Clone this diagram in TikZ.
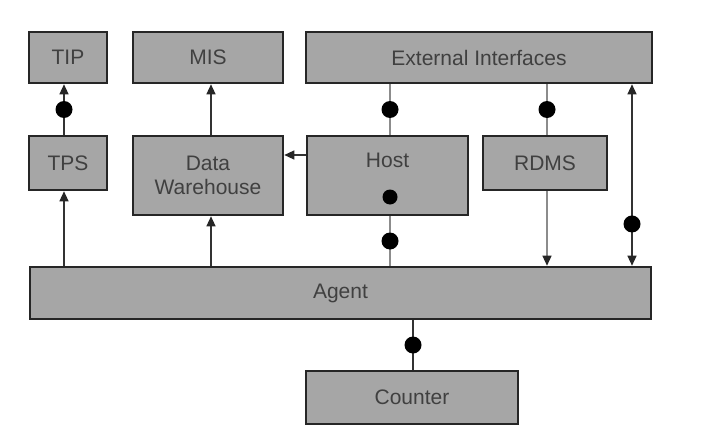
\documentclass[tikz,border=0pt]{standalone}
\usepackage{fontspec}
\setmainfont{Liberation Sans}
\usetikzlibrary{arrows.meta}
\begin{document}
\begin{tikzpicture}[x=1pt,y=-1pt,
  blk/.style={draw=black!85,line width=2.6pt,fill=black!35,inner sep=0pt,
    font=\fontsize{21}{24}\selectfont,text=black!75,align=center},
  conn/.style={line width=1.3pt,draw=black!80},
  lconn/.style={line width=1.3pt,draw=black!45},
  tip/.tip={Triangle[length=10pt,width=9pt,fill=black!85,color=black!85]},
  arr/.style={-tip},
  dot/.style={circle,fill=black,inner sep=0pt,minimum size=17pt},
  sdot/.style={circle,fill=black,inner sep=0pt,minimum size=15pt}]
\useasboundingbox[fill=white] (0,0) rectangle (722,444);
% blocks
\node[blk,minimum width=78pt,minimum height=51pt] (tip) at (68,57.5) {TIP};
\node[blk,minimum width=150pt,minimum height=51pt] (mis) at (208,57.5) {MIS};
\node[blk,minimum width=346pt,minimum height=51pt] (ei) at (479,57.5) {External Interfaces};
\node[blk,minimum width=78pt,minimum height=54pt] (tps) at (68,163) {TPS};
\node[blk,minimum width=150pt,minimum height=79pt] (dw) at (208,175.5) {Data\\Warehouse};
\node[blk,minimum width=161pt,minimum height=79pt] (host) at (387.5,175.5) {};
\node[font=\fontsize{21}{24}\selectfont,text=black!75] (hostlbl) at (387.5,160) {Host};
\node[sdot] (hostdot) at (390,197) {};
\node[blk,minimum width=124pt,minimum height=54pt] (rdms) at (545,163) {RDMS};
\node[blk,minimum width=621pt,minimum height=52pt] (agent) at (340.5,293) {Agent};
\node[blk,minimum width=212pt,minimum height=53pt] (counter) at (412,397.5) {Counter};
% helper coordinates
\coordinate (xa) at (64,0);
\coordinate (xb) at (211,0);
\coordinate (xc) at (390,0);
\coordinate (xd) at (547,0);
\coordinate (xe) at (632,0);
\coordinate (xf) at (413,0);
\coordinate (yh) at (0,155);
% connectors
\draw[conn,arr] (tps.north -| xa) -- node[dot]{} (tip.south -| xa);
\draw[conn,arr] (dw.north -| xb) -- (mis.south -| xb);
\draw[conn,arr] (agent.north -| xa) -- (tps.south -| xa);
\draw[conn,arr] (agent.north -| xb) -- (dw.south -| xb);
\draw[conn,arr] (host.west |- yh) -- (dw.east |- yh);
\draw[lconn] (ei.south -| xc) -- node[dot]{} (host.north -| xc);
\draw[lconn] (host.south -| xc) -- node[dot]{} (agent.north -| xc);
\draw[lconn] (ei.south -| xd) -- node[dot]{} (rdms.north -| xd);
\draw[lconn,arr] (rdms.south -| xd) -- (agent.north -| xd);
\draw[conn,tip-tip] (ei.south -| xe) -- node[dot,pos=0.77]{} (agent.north -| xe);
\draw[conn] (agent.south -| xf) -- node[dot]{} (counter.north -| xf);
\end{tikzpicture}
\end{document}
